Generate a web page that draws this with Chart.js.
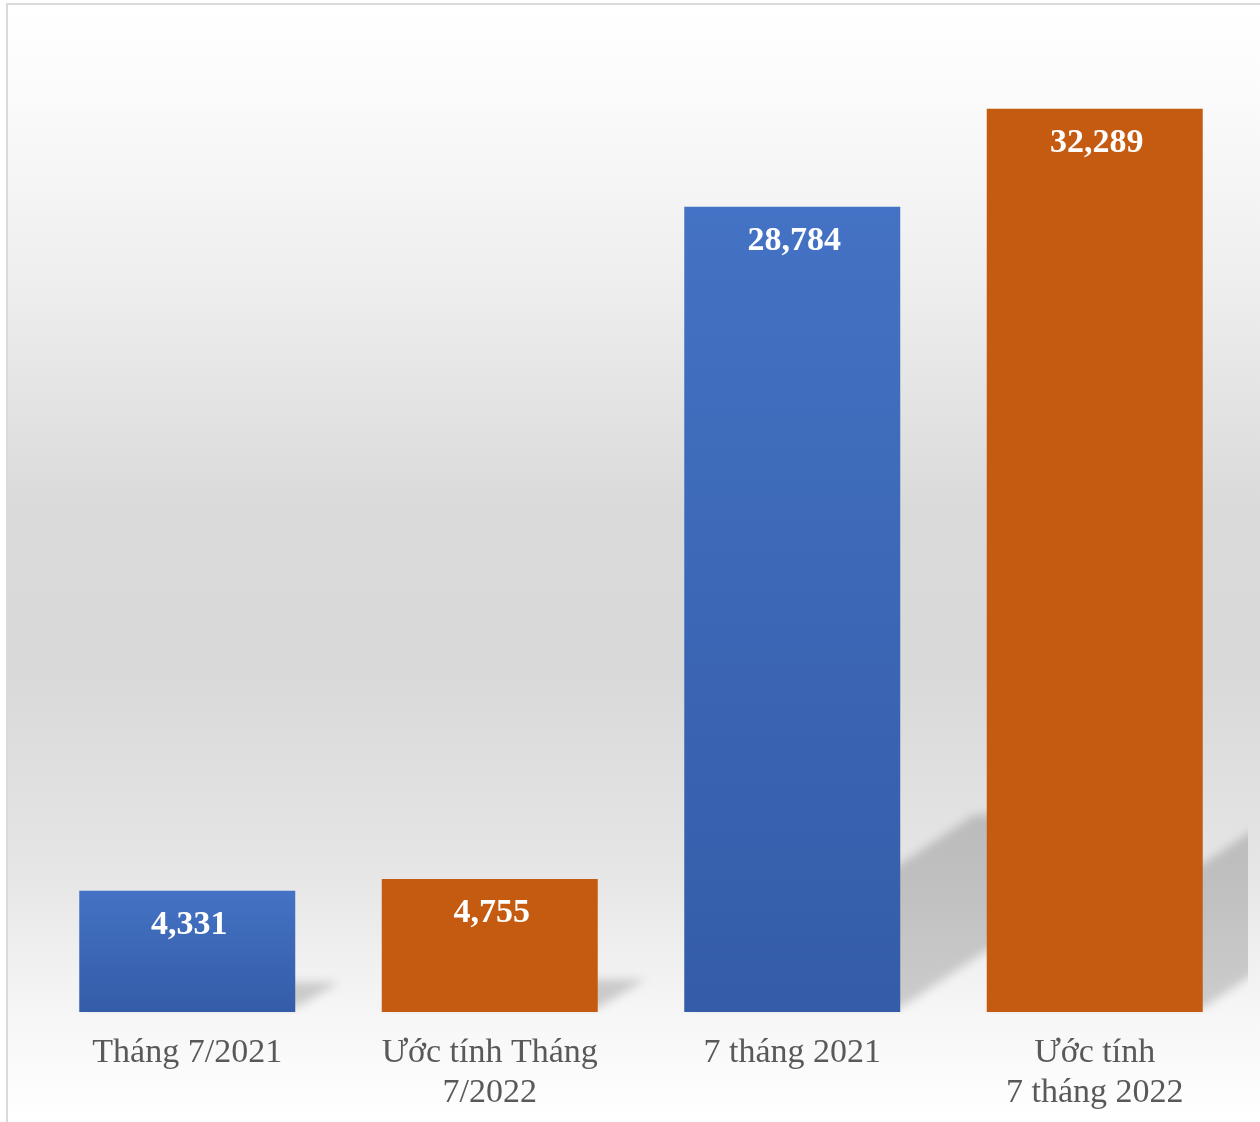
<!DOCTYPE html>
<html lang="vi">
<head>
    <meta charset="UTF-8">
    <title>Ước tính 7 tháng 2022</title>
    <script src="https://cdn.jsdelivr.net/npm/chart.js"></script>
    <style>
        body {
            margin: 0;
            padding: 0;
            background: #ffffff;
        }
        canvas {
            display: block;
        }
    </style>
</head>
<body>
    <canvas id="barChart" width="1260" height="1122"></canvas>

    <script>
        // Data
        const categories = [
            ['Tháng 7/2021'],
            ['Ước tính Tháng', '7/2022'],
            ['7 tháng 2021'],
            ['Ước tính', '7 tháng 2022']
        ];
        const values = [4331, 4755, 28784, 32289];
        const barKinds = ['blue', 'orange', 'blue', 'orange'];
        const yMax = 35000;

        // Background panel with soft grey gradient and thin frame
        const backgroundPanel = {
            id: 'backgroundPanel',
            beforeDraw(chart) {
                const ctx = chart.ctx;
                ctx.save();
                ctx.fillStyle = '#ffffff';
                ctx.fillRect(0, 0, chart.width, chart.height);
                const g = ctx.createLinearGradient(0, 5, 0, chart.height);
                g.addColorStop(0, '#ffffff');
                g.addColorStop(0.08, '#fbfbfb');
                g.addColorStop(0.25, '#eeeeee');
                g.addColorStop(0.45, '#dadada');
                g.addColorStop(0.6, '#d9d9d9');
                g.addColorStop(0.78, '#e6e6e6');
                g.addColorStop(0.9, '#f6f6f6');
                g.addColorStop(1, '#ffffff');
                ctx.fillStyle = g;
                ctx.fillRect(8, 5, chart.width - 8, chart.height - 5);
                ctx.fillStyle = '#d9d9d9';
                ctx.fillRect(6, 3, chart.width - 6, 2);
                ctx.fillRect(6, 3, 2, chart.height - 3);
                ctx.restore();
            }
        };

        // Slanted soft shadows behind each bar
        const barShadows = {
            id: 'barShadows',
            beforeDatasetsDraw(chart) {
                const ctx = chart.ctx;
                const meta = chart.getDatasetMeta(0);
                ctx.save();
                ctx.beginPath();
                ctx.rect(8, 0, 1248 - 8, chart.chartArea.bottom + 2);
                ctx.clip();
                ctx.filter = 'blur(5px)';
                ctx.fillStyle = 'rgba(0, 0, 0, 0.17)';
                meta.data.forEach(bar => {
                    const p = bar.getProps(['x', 'y', 'base', 'width'], true);
                    const xl = p.x - p.width / 2;
                    const xr = p.x + p.width / 2;
                    const h = p.base - p.y;
                    const dx = 0.36 * h;
                    const dy = 0.245 * h;
                    ctx.beginPath();
                    ctx.moveTo(xl, p.base - 4);
                    ctx.lineTo(xr, p.base - 4);
                    ctx.lineTo(xr + dx, p.base - dy);
                    ctx.lineTo(xl + dx, p.base - dy);
                    ctx.closePath();
                    ctx.fill();
                });
                ctx.restore();
            }
        };

        // White bold value labels near the top of each bar
        const valueLabels = {
            id: 'valueLabels',
            afterDatasetsDraw(chart) {
                const ctx = chart.ctx;
                const meta = chart.getDatasetMeta(0);
                ctx.save();
                ctx.font = 'bold 34px "Liberation Serif", "Times New Roman", serif';
                ctx.fillStyle = '#ffffff';
                ctx.textAlign = 'center';
                ctx.textBaseline = 'middle';
                meta.data.forEach((bar, i) => {
                    ctx.fillText(values[i].toLocaleString('en-US'), bar.x + 2, bar.y + 34);
                });
                ctx.restore();
            }
        };

        function barColor(context) {
            const i = context.dataIndex;
            if (barKinds[i] === 'orange') return '#c55a11';
            const chart = context.chart;
            if (!chart.chartArea) return '#4472c4';
            const yScale = chart.scales.y;
            const top = yScale.getPixelForValue(values[i]);
            const base = yScale.getPixelForValue(0);
            const g = chart.ctx.createLinearGradient(0, top, 0, base);
            g.addColorStop(0, '#4472c4');
            g.addColorStop(1, '#345ca8');
            return g;
        }

        const ctx = document.getElementById('barChart').getContext('2d');
        const barChart = new Chart(ctx, {
            type: 'bar',
            data: {
                labels: categories,
                datasets: [{
                    data: values,
                    backgroundColor: barColor,
                    borderWidth: 0,
                    barPercentage: 0.714,
                    categoryPercentage: 1
                }]
            },
            options: {
                responsive: false,
                animation: false,
                layout: {
                    padding: { left: 36, right: 14, top: 33, bottom: 0 }
                },
                plugins: {
                    legend: { display: false },
                    tooltip: { enabled: false }
                },
                scales: {
                    x: {
                        grid: { display: false },
                        border: { display: false },
                        afterFit(scale) {
                            scale.height = 110;
                        },
                        ticks: {
                            color: '#595959',
                            padding: 13,
                            maxRotation: 0,
                            autoSkip: false,
                            font: { family: '"Liberation Serif", "Times New Roman", serif', size: 34, lineHeight: 1.18 }
                        }
                    },
                    y: {
                        display: false,
                        min: 0,
                        max: yMax
                    }
                }
            },
            plugins: [backgroundPanel, barShadows, valueLabels]
        });
    </script>
</body>
</html>
